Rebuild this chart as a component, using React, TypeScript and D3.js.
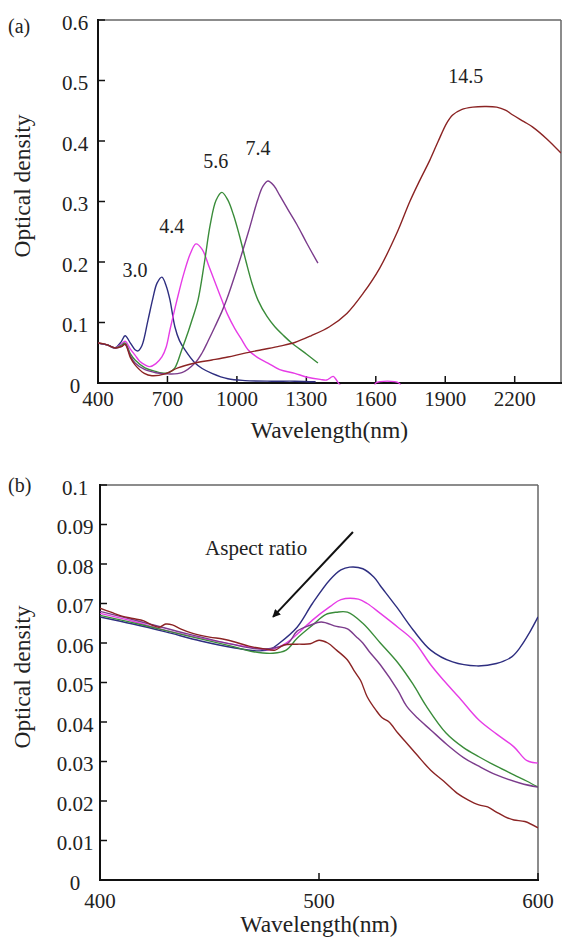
import React from "react";
import * as d3 from "d3";

// panel (a): wavelength (nm), optical density
const a30 = [[400,0.066],[440,0.063],[473,0.058],[500,0.068],[517,0.078],[540,0.066],[560,0.055],[573,0.053],[590,0.062],[616,0.104],[637,0.140],[655,0.165],[676,0.175],[695,0.160],[711,0.137],[732,0.093],[752,0.070],[775,0.055],[819,0.033],[850,0.024],[892,0.016],[961,0.007],[1035,0.004],[1150,0.003],[1250,0.003],[1340,0.002]];
const a44 = [[400,0.066],[440,0.063],[473,0.058],[500,0.064],[517,0.069],[540,0.056],[560,0.046],[580,0.036],[603,0.030],[624,0.027],[650,0.032],[676,0.043],[695,0.060],[711,0.088],[741,0.137],[770,0.180],[800,0.215],[823,0.230],[850,0.221],[880,0.192],[910,0.162],[935,0.137],[960,0.113],[991,0.090],[1020,0.072],[1048,0.055],[1090,0.042],[1134,0.033],[1185,0.022],[1250,0.016],[1300,0.010],[1360,0.006],[1388,0.005],[1405,0.009],[1416,0.011],[1430,0.005],[1445,-0.003],[1500,-0.01],[1590,-0.01],[1600,0],[1700,0],[1712,-0.01]];
const a56 = [[400,0.066],[440,0.063],[473,0.058],[500,0.062],[517,0.066],[540,0.048],[560,0.038],[603,0.025],[650,0.019],[690,0.016],[710,0.018],[732,0.025],[762,0.055],[790,0.085],[806,0.104],[832,0.137],[860,0.200],[885,0.262],[910,0.302],[935,0.315],[960,0.303],[985,0.278],[1010,0.245],[1040,0.200],[1065,0.165],[1091,0.137],[1130,0.110],[1164,0.093],[1200,0.079],[1237,0.066],[1300,0.048],[1350,0.033]];
const a74 = [[400,0.066],[440,0.063],[473,0.058],[500,0.060],[517,0.064],[540,0.045],[560,0.033],[603,0.022],[650,0.017],[702,0.015],[762,0.017],[819,0.033],[850,0.050],[875,0.069],[905,0.093],[935,0.118],[955,0.137],[1000,0.188],[1050,0.250],[1090,0.303],[1112,0.325],[1134,0.334],[1160,0.326],[1185,0.310],[1220,0.287],[1259,0.262],[1302,0.231],[1350,0.198]];
const a145 = [[400,0.066],[420,0.065],[440,0.063],[473,0.058],[500,0.060],[517,0.064],[540,0.042],[560,0.030],[600,0.016],[633,0.012],[689,0.015],[745,0.025],[819,0.033],[892,0.038],[961,0.043],[1030,0.049],[1107,0.055],[1185,0.061],[1250,0.067],[1320,0.078],[1400,0.093],[1475,0.115],[1545,0.148],[1617,0.190],[1690,0.247],[1747,0.300],[1790,0.335],[1833,0.368],[1870,0.400],[1907,0.430],[1932,0.443],[1970,0.452],[2019,0.456],[2070,0.457],[2122,0.456],[2160,0.451],[2192,0.443],[2240,0.432],[2278,0.423],[2340,0.403],[2400,0.380]];

// panel (b)
const b30 = [[400,0.0666],[415,0.0648],[430,0.0628],[446,0.0605],[461,0.0588],[473,0.0580],[478,0.0585],[482,0.0600],[490,0.0640],[497,0.0700],[505,0.0760],[510,0.0785],[514,0.0792],[520,0.0788],[525,0.0767],[528,0.0745],[535.6,0.0690],[543,0.0633],[551,0.0582],[561,0.0552],[572,0.0542],[581,0.0548],[588,0.0565],[592,0.0590],[596,0.0625],[600,0.0666]];
const b44 = [[400,0.0675],[415,0.0655],[430,0.0632],[450,0.0608],[470,0.0588],[478,0.0583],[485,0.0600],[490,0.0622],[497,0.0658],[505,0.0692],[510,0.0710],[518,0.0711],[522,0.0700],[528,0.0675],[536,0.0640],[543,0.0607],[551,0.0545],[557,0.0505],[564,0.0462],[573,0.0405],[581,0.0370],[589,0.0337],[595,0.0302],[600,0.0296]];
const b56 = [[400,0.0670],[420,0.0645],[440,0.0618],[460,0.0592],[470,0.0578],[479,0.0574],[485,0.0582],[490,0.0612],[497,0.0645],[503,0.0672],[508,0.0678],[513,0.0678],[520,0.0650],[528,0.0600],[536,0.0550],[543,0.0495],[549,0.0440],[558,0.0372],[566,0.0335],[573,0.0312],[581,0.0288],[589,0.0266],[595,0.0250],[600,0.0235]];
const b74 = [[400,0.0680],[420,0.0652],[440,0.0623],[460,0.0597],[472,0.0585],[480,0.0588],[486,0.0600],[490,0.0630],[496,0.0645],[501,0.0653],[508,0.0642],[513,0.0636],[517,0.0616],[520,0.0600],[523,0.0578],[528,0.0545],[536,0.0480],[540,0.0440],[545,0.0410],[551,0.0380],[558,0.0345],[566,0.0310],[573,0.0288],[581,0.0266],[592,0.0245],[600,0.0235]];
const b145 = [[400,0.0688],[405,0.0678],[410,0.0668],[415,0.0662],[420,0.0656],[424,0.0645],[427,0.0640],[430,0.0648],[433,0.0646],[437,0.0635],[442,0.0625],[450,0.0615],[456,0.0610],[462,0.0602],[468,0.0592],[475,0.0585],[480,0.0582],[484,0.0595],[490,0.0597],[496,0.0598],[500,0.0607],[504,0.0600],[508,0.0582],[513,0.0557],[516,0.0530],[519,0.0505],[522,0.0464],[526,0.0430],[529,0.0410],[532,0.0400],[536,0.0372],[540,0.0347],[545,0.0315],[551,0.0278],[557,0.0250],[563,0.0220],[568,0.0203],[573,0.0190],[577,0.0185],[581,0.0172],[585,0.0160],[589,0.0152],[594,0.0148],[600,0.0132]];

const seriesColors = ["#2e2e80", "#e63ce6", "#3a8c3a", "#7b3c8c", "#8b2424"];
const seriesA = [a30, a44, a56, a74, a145];
const seriesB = [b30, b44, b56, b74, b145];

const ticksAx = [400, 700, 1000, 1300, 1600, 1900, 2200];
const ticksAy = [0, 0.1, 0.2, 0.3, 0.4, 0.5, 0.6];
const ticksBx = [400, 500, 600];
const ticksBy = [0, 0.01, 0.02, 0.03, 0.04, 0.05, 0.06, 0.07, 0.08, 0.09, 0.1];

// aspect ratio labels on (a): [text, nm, od]
const peakLabels: [string, number, number][] = [
  ["3.0", 560, 0.175],
  ["4.4", 719, 0.248],
  ["5.6", 909, 0.355],
  ["7.4", 1091, 0.377],
  ["14.5", 1989, 0.496],
];

const FONT = "Times New Roman, Liberation Serif, DejaVu Serif, serif";

function fmt(v: number) {
  return v === 0 ? "0" : String(+v.toFixed(2));
}

function Panel(props: any) {
  const { id, x, y, series, xticks, yticks, xLabelOffset, titleY, titleX, tag, tagY, children } = props;
  const [x0, x1] = x.range();
  const [y0, y1] = y.range(); // y0 bottom, y1 top
  const line = d3.line<number[]>()
    .x(d => x(d[0]))
    .y(d => y(d[1]))
    .curve(d3.curveCatmullRom.alpha(0.5));
  return (
    <g>
      <defs>
        <clipPath id={id}>
          <rect x={x0} y={y1} width={x1 - x0} height={y0 - y1 + 1.5} />
        </clipPath>
      </defs>
      {/* frame */}
      <line x1={x0} x2={x1} y1={y1} y2={y1} stroke="#666" strokeWidth={1.5} />
      <line x1={x1} x2={x1} y1={y1} y2={y0} stroke="#666" strokeWidth={1.5} />
      <line x1={x0} x2={x0} y1={y1 - 1} y2={y0 + 1} stroke="#111" strokeWidth={2} />
      <line x1={x0 - 1} x2={x1 + 1} y1={y0} y2={y0} stroke="#111" strokeWidth={2} />
      {yticks.map((t: number) => (
        <g key={"y" + t}>
          <line x1={x0} x2={x0 + 7} y1={y(t)} y2={y(t)} stroke="#111" strokeWidth={1.5} />
          <text x={75} y={y(t) + 9.5} textAnchor="middle" fontSize={21}>{fmt(t)}</text>
        </g>
      ))}
      {xticks.map((t: number) => (
        <g key={"x" + t}>
          <line x1={x(t)} x2={x(t)} y1={y0} y2={y0 - 7} stroke="#111" strokeWidth={1.5} />
          <text x={x(t)} y={y0 + xLabelOffset} textAnchor="middle" fontSize={21}>{t}</text>
        </g>
      ))}
      <g clipPath={`url(#${id})`}>
        {series.map((s: number[][], i: number) => (
          <path key={i} d={line(s) || ""} fill="none" stroke={seriesColors[i]} strokeWidth={1.4} />
        ))}
      </g>
      <text x={(x0 + x1) / 2} y={titleX} textAnchor="middle" fontSize={23.5}>Wavelength(nm)</text>
      <text transform={`translate(30,${titleY}) rotate(-90)`} textAnchor="middle" fontSize={23.5}>Optical density</text>
      <text x={8} y={tagY} fontSize={20}>{tag}</text>
      {children}
    </g>
  );
}

export default function App() {
  const xa = d3.scaleLinear().domain([400, 2400]).range([98, 561]);
  const ya = d3.scaleLinear().domain([0, 0.6]).range([383, 20]);
  const xb = d3.scaleLinear().domain([400, 600]).range([100, 538]);
  const yb = d3.scaleLinear().domain([0, 0.1]).range([880, 485]);

  // arrow in (b), data coords
  const arrowFrom = [515.5, 0.0881];
  const arrowTo = [479, 0.0666];

  return (
    <svg width={563} height={939} fontFamily={FONT} fill="#222"
      style={{ position: "absolute", left: 0, top: 0, background: "#fff", fontFamily: FONT }}>
      <defs>
        <marker id="ah" viewBox="0 0 10 10" refX={9} refY={5} markerWidth={4} markerHeight={4} orient="auto">
          <path d="M0,0 L10,5 L0,10 z" fill="#111" />
        </marker>
      </defs>
      <rect width={563} height={939} fill="#fff" />
      <Panel id="clipA" x={xa} y={ya} series={seriesA} xticks={ticksAx} yticks={ticksAy}
        xLabelOffset={23} titleX={438} titleY={186} tag="(a)" tagY={33}>
        {peakLabels.map(([t, nm, od]) => (
          <text key={t} x={xa(nm)} y={ya(od)} textAnchor="middle" fontSize={20}>{t}</text>
        ))}
      </Panel>
      <Panel id="clipB" x={xb} y={yb} series={seriesB} xticks={ticksBx} yticks={ticksBy}
        xLabelOffset={28} titleX={932} titleY={677} tag="(b)" tagY={492}>
        <text x={xb(448)} y={yb(0.0823)} fontSize={21}>Aspect ratio</text>
        <line x1={xb(arrowFrom[0])} y1={yb(arrowFrom[1])} x2={xb(arrowTo[0])} y2={yb(arrowTo[1])}
          stroke="#111" strokeWidth={2} markerEnd="url(#ah)" />
      </Panel>
    </svg>
  );
}
